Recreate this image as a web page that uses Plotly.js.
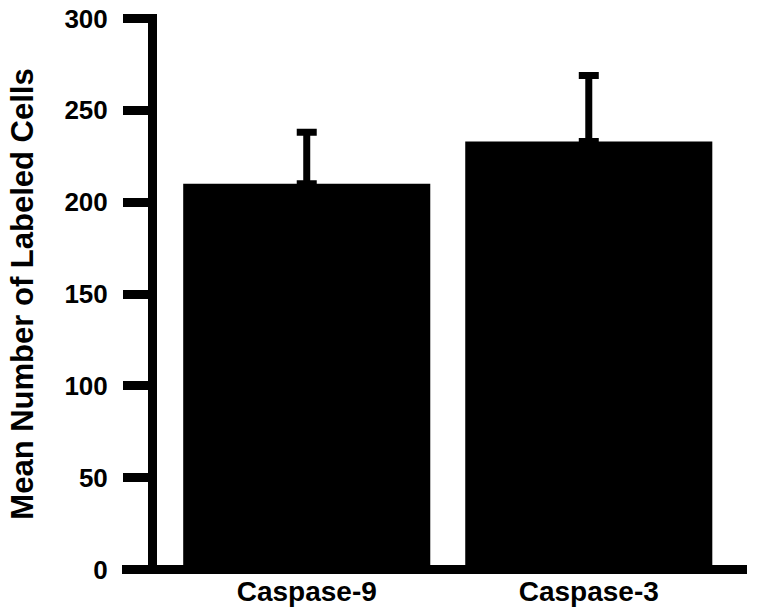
<!DOCTYPE html>
<html>
<head>
<meta charset="utf-8">
<script src="https://cdn.plot.ly/plotly-3.0.1.min.js"></script>
<style>
  html, body { margin: 0; padding: 0; background: #fff; }
  #chart { width: 758px; height: 616px; }
</style>
</head>
<body>
<div id="chart"></div>
<script>
const categories = ["Caspase-9", "Caspase-3"];
const meanCells = [210, 233];
const errorCells = [28, 36];
const yTicks = [0, 50, 100, 150, 200, 250, 300];

const font = { family: "Liberation Sans, Arial, sans-serif", color: "#000", weight: "bold" };

Plotly.newPlot(
  "chart",
  [
    {
      type: "bar",
      x: categories,
      y: meanCells,
      marker: { color: "#000", line: { width: 0 } },
      error_y: {
        type: "data",
        array: errorCells,
        symmetric: false,
        arrayminus: [0, 0],
        color: "#000",
        thickness: 7,
        width: 10
      },
      hoverinfo: "skip"
    }
  ],
  {
    width: 758,
    height: 616,
    paper_bgcolor: "#fff",
    plot_bgcolor: "rgba(0,0,0,0)",
    margin: { l: 122, r: 11, t: 14, b: 42 },
    bargap: 0.124,
    showlegend: false,
    font: font,
    xaxis: {
      range: [-0.655, 1.561],
      showline: false,
      showgrid: false,
      zeroline: false,
      ticks: "",
      ticklabelstandoff: -2,
      tickfont: { ...font, size: 28 }
    },
    yaxis: {
      range: [-2.45, 302.45],
      anchor: "free",
      position: 0.048,
      showline: true,
      linecolor: "#000",
      linewidth: 9,
      showgrid: false,
      zeroline: true,
      zerolinecolor: "#000",
      zerolinewidth: 9,
      ticks: "outside",
      ticklen: 25,
      tickwidth: 9,
      tickcolor: "#000",
      tickvals: yTicks,
      ticktext: yTicks.map(String),
      ticklabelstandoff: 10,
      tickfont: { ...font, size: 26 },
      title: {
        text: "Mean Number of Labeled Cells",
        font: { ...font, size: 31 },
        standoff: 20
      }
    }
  },
  { displayModeBar: false, staticPlot: true }
);
</script>
</body>
</html>
